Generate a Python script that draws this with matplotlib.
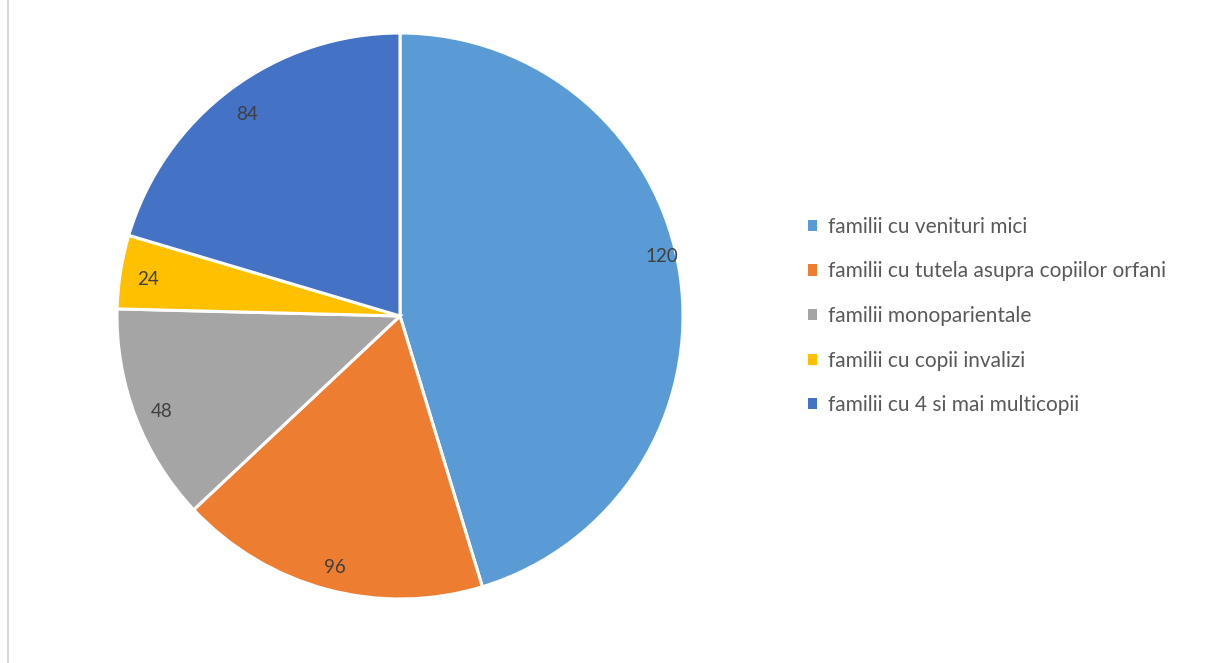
import matplotlib.pyplot as plt
from matplotlib.lines import Line2D
from matplotlib.patches import Patch

# categories and values
categories = ["familii cu venituri mici",
              "familii cu tutela asupra copiilor orfani",
              "familii monoparientale",
              "familii cu copii invalizi",
              "familii cu 4 si mai multicopii"]
# slice shares as drawn in the picture (percent of circle)
shares = [45.3, 17.7, 12.4, 4.2, 20.4]
# numbers printed on the slices
labels = ["120", "96", "48", "24", "84"]
colors = ["#5B9BD5", "#ED7D31", "#A5A5A5", "#FFC000", "#4472C4"]

plt.rcParams['font.family'] = ['Lato', 'DejaVu Sans']

W, H = 1205, 663
fig = plt.figure(figsize=(W / 100, H / 100), dpi=100)

cx, cy, r = 400, 316, 283
ax = fig.add_axes([(cx - r) / W, (H - cy - r) / H, 2 * r / W, 2 * r / H])
wedges, texts = ax.pie(shares, colors=colors, labels=labels, startangle=90,
                       counterclock=False, labeldistance=0.905, radius=1,
                       wedgeprops=dict(edgecolor="white", linewidth=2.2),
                       textprops=dict(color="#404040", fontsize=13.5))
for t in texts:
    t.set_ha("center")
    t.set_va("center")
    x, y = t.get_position()
    t.set_position((x + 0.002, y - 0.014))
# first label sits a bit higher and nearer the rim
x, y = texts[0].get_position()
texts[0].set_position((x * 1.03, y + 0.09))
ax.set_xlim(-1, 1)
ax.set_ylim(-1, 1)
ax.axis("off")

handles = [Patch(facecolor=c, edgecolor="none") for c in colors]
fig.legend(handles, categories, loc="center left",
           bbox_to_anchor=(789 / W, (H - 316) / H), frameon=False,
           fontsize=15, labelcolor="#595959", handlelength=0.45,
           handleheight=0.45, handletextpad=0.5, labelspacing=1.18)

fig.add_artist(Line2D([8 / W, 8 / W], [0, 1], color="#D9D9D9", linewidth=1.5))

fig.savefig("out.png", dpi=100)
